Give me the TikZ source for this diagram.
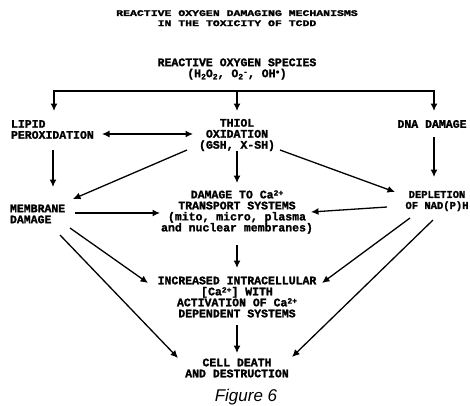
\documentclass[tikz,border=0pt]{standalone}
\usepackage{fontspec}
\usepackage{graphicx}
\setmonofont[BoldFeatures={FakeBold=1.6}]{Liberation Mono}
\newfontfamily\figfont{Liberation Sans}
\newcommand\mysup[1]{\raisebox{0.45ex}{\fontsize{8}{8}\selectfont #1}}
\newcommand\mysub[1]{\raisebox{-0.35ex}{\fontsize{8}{8}\selectfont #1}}
\usetikzlibrary{arrows.meta}
\begin{document}
\begin{tikzpicture}[x=1pt,y=-1pt,
  lbl/.style={font=\ttfamily\bfseries\fontsize{11.5}{11}\selectfont, inner sep=0pt, outer sep=0pt},
  arr/.style={line width=1.3pt, -{Latex[length=7.5pt,width=7pt]}},
  darr/.style={line width=1.3pt, {Latex[length=7.5pt,width=7pt]}-{Latex[length=7.5pt,width=7pt]}}]
\fill[white] (0,0) rectangle (470,405);
\useasboundingbox (0,0) rectangle (470,405);

% title
\node[lbl] (title) at (237,19) {\scalebox{1}[0.75]{\fontsize{11.5}{13.5}\selectfont\begin{tabular}{@{}c@{}}REACTIVE OXYGEN DAMAGING MECHANISMS\\IN THE TOXICITY OF TCDD\end{tabular}}};

% nodes
\node[lbl, align=center] (ros) at (237,69) {REACTIVE OXYGEN SPECIES\\(H\mysub{2}O\mysub{2}, O\mysub{2}\mysup{-}, OH\mysup{$\bullet$})};
\node[lbl, align=left, anchor=west] (lipid) at (11,129.5) {LIPID\\PEROXIDATION};
\node[lbl, align=center] (thiol) at (237,135) {THIOL\\OXIDATION\\(GSH, X-SH)};
\node[lbl] (dna) at (432,124) {DNA DAMAGE};
\node[lbl, align=left, anchor=west] (mem) at (10,214) {MEMBRANE\\DAMAGE};
\node[lbl, align=center, font=\ttfamily\bfseries\fontsize{10.5}{11}\selectfont] (depl) at (437,201) {DEPLETION\\OF NAD(P)H};
\node[lbl, align=center] (dmg) at (237,212) {DAMAGE TO Ca\mysup{2+}\\TRANSPORT SYSTEMS\\(mito, micro, plasma\\and nuclear membranes)};
\node[lbl, align=center] (inc) at (237,297) {INCREASED INTRACELLULAR\\{[}Ca\mysup{2+}] WITH\\ACTIVATION OF Ca\mysup{2+}\\DEPENDENT SYSTEMS};
\node[lbl, align=center] (death) at (237,368) {CELL DEATH\\AND DESTRUCTION};
\node[font=\figfont\itshape\fontsize{17}{17}\selectfont, inner sep=0pt, anchor=base] (fig) at (246,401) {Figure 6};

% bus from reactive oxygen species
\coordinate (bus) at (237,91);
\draw[arr] (bus) -| ([shift={(43,-18.5)}]lipid.west);
\draw[arr] (bus) -| ([shift={(2,-13)}]dna.center);
\draw[arr] (bus) -- ([shift={(0,-24)}]thiol.center);

% second row
\draw[darr] ([shift={(91,4.5)}]lipid.west) -- ([shift={(-44,-1)}]thiol.center);
\draw[arr] ([shift={(42,20.5)}]lipid.west) -- ([shift={(43,-27)}]mem.west);
\draw[arr] ([shift={(-50,15)}]thiol.center) -- ([shift={(63,-15)}]mem.west);
\draw[arr] ([shift={(43,15)}]thiol.center) -- ([shift={(-42,-9)}]depl.center);
\draw[arr] ([shift={(0,16)}]thiol.center) -- ([shift={(0,-29)}]dmg.center);
\draw[arr] ([shift={(2,13)}]dna.center) -- ([shift={(-3,-24)}]depl.center);

% third row
\draw[arr] ([shift={(65,-1)}]mem.west) -- ([shift={(-77,1)}]dmg.center);
\draw[arr] ([shift={(-50,6)}]depl.center) -- ([shift={(74,0)}]dmg.center);
\draw[arr] ([shift={(0,33)}]dmg.center) -- ([shift={(0,-29)}]inc.center);
\draw[arr] ([shift={(60,14)}]mem.west) -- ([shift={(-89,-14)}]inc.center);
\draw[arr] ([shift={(-27,17)}]depl.center) -- ([shift={(85,-14)}]inc.center);
\draw[arr] ([shift={(50,21)}]mem.west) -- ([shift={(-59,-10)}]death.center);
\draw[arr] ([shift={(-4,19)}]depl.center) -- ([shift={(55,-11)}]death.center);
\draw[arr] ([shift={(0,28)}]inc.center) -- ([shift={(0,-15)}]death.center);
\end{tikzpicture}
\end{document}
